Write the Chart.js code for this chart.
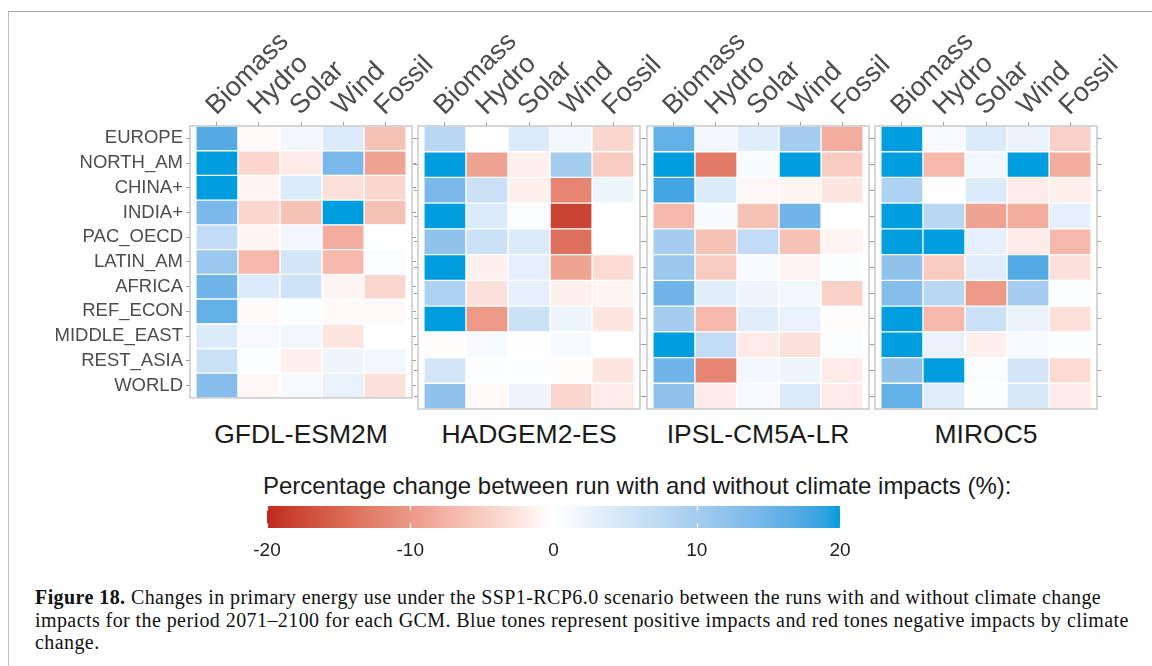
<!DOCTYPE html>
<html>
<head>
<meta charset="utf-8">
<title>Primary energy use, SSP1-RCP6.0</title>
<script src="https://cdn.jsdelivr.net/npm/chart.js@4.4.1/dist/chart.umd.min.js"></script>
<style>
  html, body { margin: 0; padding: 0; background: #fff; overflow: hidden; }
  body { width: 1152px; height: 666px; position: relative; font-family: 'Liberation Sans', Arial, sans-serif; }
  #frame { position: absolute; left: 8px; top: 11px; width: 1160px; height: 680px;
           border-top: 1.5px solid #a3a3a3; border-left: 1.5px solid #bdbdbd; }
  canvas { position: absolute; }
  .gcm { position: absolute; top: 419px; width: 222px; text-align: center; font-size: 26.5px; color: #1a1a1a; }
  #legendTitle { position: absolute; left: 263px; top: 472px; font-size: 24px; color: #1a1a1a; white-space: nowrap; }
  #caption { position: absolute; left: 35px; top: 586px; font-family: 'Liberation Serif', 'Times New Roman', serif;
             font-size: 20px; letter-spacing: 0.42px; line-height: 22.5px; color: #111; white-space: nowrap; }
</style>
</head>
<body>
<div id="frame"></div>
<canvas id="panel0"></canvas>
<canvas id="panel1"></canvas>
<canvas id="panel2"></canvas>
<canvas id="panel3"></canvas>
<div class="gcm" style="left:190px">GFDL-ESM2M</div>
<div class="gcm" style="left:418px">HADGEM2-ES</div>
<div class="gcm" style="left:647px">IPSL-CM5A-LR</div>
<div class="gcm" style="left:875px">MIROC5</div>
<div id="legendTitle">Percentage change between run with and without climate impacts (%):</div>
<canvas id="colourbar"></canvas>
<div id="caption"><b>Figure 18.</b> Changes in primary energy use under the SSP1-RCP6.0 scenario between the runs with and without climate change<br>impacts for the period 2071–2100 for each GCM. Blue tones represent positive impacts and red tones negative impacts by climate<br>change.</div>

<script>
const regions = ["EUROPE", "NORTH_AM", "CHINA+", "INDIA+", "PAC_OECD", "LATIN_AM",
  "AFRICA", "REF_ECON", "MIDDLE_EAST", "REST_ASIA", "WORLD"];
const energyTypes = ["Biomass", "Hydro", "Solar", "Wind", "Fossil"];
const legendTicks = [-20, -10, 0, 10, 20];

// % change, one row per region: Biomass, Hydro, Solar, Wind, Fossil
const gfdlEsm2m = [
  [17, -0.5, 1.5, 4, -6],
  [20, -4, -2, 14, -9],
  [20, -1, 4, -3, -4],
  [14, -4, -6, 20, -6],
  [7, -1, 1.5, -8, 0],
  [11, -7, 5, -7, 0.5],
  [15, 4, 5.5, -1, -4],
  [16, -0.5, 0.3, -0.5, -0.5],
  [4, 1, 1.5, -2.5, 0],
  [6, 0.3, -1.5, 2, 1.5],
  [13, -0.8, 1, 2.5, -3]
];
const hadgem2Es = [
  [8, 0, 4, 1.5, -4],
  [20, -9, -1.5, 10, -5],
  [14, 6, -1.5, -12, 2],
  [20, 4, 0.5, -18, 0],
  [12, 6, 4, -14, 0],
  [20, -1.5, 3, -9, -3.5],
  [9, -3, 3, -1.5, -1],
  [20, -10, 6, 2, -2.5],
  [-0.3, 1, -0.2, 1, 0],
  [5, 0.3, 0.3, -0.3, -2.5],
  [12, -0.5, 2, -4, -2]
];
const ipslCm5aLr = [
  [16, 1.5, 3.5, 10, -8],
  [20, -13, 0.8, 20, -5],
  [18, 4, -0.8, -1, -2.5],
  [-7, 0.8, -6, 15, 0],
  [10, -6, 7, -6, -1],
  [11, -5, 0.8, -1, 0.3],
  [15, 3.5, 2, 1.5, -4.5],
  [10, -7, 3.5, 2.5, -0.3],
  [20, 7, -2, -3, 0.5],
  [15, -12, 1.5, 2, -2],
  [12, -2, 1, 4, -2]
];
const miroc5 = [
  [20, 1, 4, 2.5, -4.5],
  [20, -7, 1.5, 20, -8],
  [9, -0.2, 4, -2, -1.5],
  [20, 8, -9, -8, 3],
  [20, 20, 3, -2, -7],
  [12, -5, 3.5, 17, -3],
  [13, 8, -10, 10, 0.3],
  [20, -7, 6, 2.5, -3],
  [20, 2.5, -1.5, 1, 0.3],
  [12, 20, 0.5, 5, -3.5],
  [16, 3.5, 0.3, 4.5, -2]
];
const gcmValues = [gfdlEsm2m, hadgem2Es, ipslCm5aLr, miroc5];

Chart.defaults.font.family = "'Liberation Sans', Arial, sans-serif";

// diverging fill: red -> white -> blue, interpolated in CIE Lab
const lowCol = [191, 40, 30];
const midCol = [255, 255, 255];
const highCol = [0, 157, 223];
const WHITE = [0.95047, 1, 1.08883];
const lin = c => { c /= 255; return c <= 0.04045 ? c / 12.92 : Math.pow((c + 0.055) / 1.055, 2.4); };
const gam = c => {
  c = c <= 0.0031308 ? 12.92 * c : 1.055 * Math.pow(c, 1 / 2.4) - 0.055;
  return Math.round(Math.max(0, Math.min(1, c)) * 255);
};
const f = t => t > 216 / 24389 ? Math.cbrt(t) : (24389 / 27 * t + 16) / 116;
const fi = t => t * t * t > 216 / 24389 ? t * t * t : (116 * t - 16) / (24389 / 27);

function toLab([r, g, b]) {
  const R = lin(r), G = lin(g), B = lin(b);
  const x = (0.4124 * R + 0.3576 * G + 0.1805 * B) / WHITE[0];
  const y = (0.2126 * R + 0.7152 * G + 0.0722 * B) / WHITE[1];
  const z = (0.0193 * R + 0.1192 * G + 0.9505 * B) / WHITE[2];
  return [116 * f(y) - 16, 500 * (f(x) - f(y)), 200 * (f(y) - f(z))];
}
function fromLab([L, a, b]) {
  const fy = (L + 16) / 116, fx = fy + a / 500, fz = fy - b / 200;
  const x = fi(fx) * WHITE[0], y = fi(fy) * WHITE[1], z = fi(fz) * WHITE[2];
  return [
    gam(3.2406 * x - 1.5372 * y - 0.4986 * z),
    gam(-0.9689 * x + 1.8758 * y + 0.0415 * z),
    gam(0.0557 * x - 0.2040 * y + 1.0570 * z)
  ];
}
const labLow = toLab(lowCol), labMid = toLab(midCol), labHigh = toLab(highCol);

function fillFor(v) {
  const t = Math.max(-1, Math.min(1, v / 20));
  const end = t < 0 ? labLow : labHigh;
  const k = Math.abs(t);
  const [r, g, b] = fromLab(labMid.map((m, i) => m + (end[i] - m) * k));
  return `rgb(${r},${g},${b})`;
}

// grey box round each facet
const panelBorder = {
  id: "panelBorder",
  afterDatasetsDraw(chart) {
    const { ctx, chartArea: a } = chart;
    ctx.save();
    ctx.strokeStyle = "#c9c9c9";
    ctx.lineWidth = 1.5;
    ctx.strokeRect(a.left, a.top, a.right - a.left, a.bottom - a.top);
    ctx.restore();
  }
};

const panelLeft = [190, 418, 647, 875];
const panelWidth = 222;
const tickGrid = { offset: false, drawOnChartArea: false, tickLength: 4, color: "#9e9e9e", tickWidth: 1 };

gcmValues.forEach((values, p) => {
  const axisW = p === 0 ? 190 : 8;
  const padLeft = p === 0 ? 0 : 25;
  const canvas = document.getElementById("panel" + p);
  canvas.width = padLeft + axisW + panelWidth + 6 + 80;
  canvas.height = 412;
  canvas.style.left = (panelLeft[p] - axisW - padLeft) + "px";
  canvas.style.top = "0px";

  new Chart(canvas, {
    type: "bar",
    data: {
      labels: regions,
      datasets: energyTypes.map((name, j) => ({
        label: name,
        data: regions.map(() => [j, j + 1]),
        backgroundColor: values.map(row => fillFor(row[j])),
        borderColor: "#ffffff",
        borderWidth: 1,
        borderSkipped: false,
        grouped: false,
        barPercentage: 1,
        categoryPercentage: 1
      }))
    },
    options: {
      indexAxis: "y",
      responsive: false,
      animation: false,
      layout: { padding: { top: 0, bottom: 3, left: padLeft, right: 80 } },
      plugins: { legend: { display: false }, tooltip: { enabled: false } },
      scales: {
        x: {
          type: "linear",
          position: "top",
          min: -0.14,
          max: 5.14,
          bounds: "data",
          afterBuildTicks: s => { s.ticks = energyTypes.map((_, j) => ({ value: j + 0.5 })); },
          afterFit: s => { s.height = 126; },
          grid: tickGrid,
          border: { display: false },
          ticks: {
            autoSkip: false, minRotation: 45, maxRotation: 45, padding: 0, labelOffset: 17,
            color: "#4d4d4d", font: { size: 27 },
            callback: (v, i) => energyTypes[i]
          }
        },
        y: {
          position: "left",
          offset: true,
          afterFit: s => { s.width = axisW; },
          grid: tickGrid,
          border: { display: false },
          ticks: { display: p === 0, autoSkip: false, padding: 3, color: "#4d4d4d", font: { size: 18.5 } }
        },
        y2: {
          type: "category",
          labels: regions,
          position: "right",
          offset: true,
          afterFit: s => { s.width = 6; },
          grid: tickGrid,
          border: { display: false },
          ticks: { display: false, autoSkip: false }
        }
      }
    },
    plugins: [panelBorder]
  });
});

// colour bar legend
const barTicks = {
  id: "barTicks",
  afterDatasetsDraw(chart) {
    const { ctx, chartArea: a, scales: { x } } = chart;
    ctx.save();
    ctx.strokeStyle = "#ffffff";
    ctx.lineWidth = 1.2;
    legendTicks.forEach(v => {
      const px = Math.round(x.getPixelForValue(v)) + 0.5;
      ctx.beginPath();
      ctx.moveTo(px, a.top); ctx.lineTo(px, a.top + 4.5);
      ctx.moveTo(px, a.bottom - 4.5); ctx.lineTo(px, a.bottom);
      ctx.stroke();
    });
    ctx.restore();
  }
};

const barCanvas = document.getElementById("colourbar");
barCanvas.width = 633;
barCanvas.height = 70;
barCanvas.style.left = "237px";
barCanvas.style.top = "500px";
const lo = legendTicks[0], hi = legendTicks[legendTicks.length - 1];

new Chart(barCanvas, {
  type: "bar",
  data: {
    labels: ["scale"],
    datasets: [{
      data: [[lo, hi]],
      backgroundColor: c => {
        const area = c.chart.chartArea;
        if (!area || !isFinite(area.left) || area.right <= area.left) return "#ffffff";
        const g = c.chart.ctx.createLinearGradient(area.left, 0, area.right, 0);
        for (let v = lo; v <= hi; v++) g.addColorStop((v - lo) / (hi - lo), fillFor(v));
        return g;
      },
      borderWidth: 0,
      barPercentage: 1,
      categoryPercentage: 1
    }]
  },
  options: {
    indexAxis: "y",
    responsive: false,
    animation: false,
    layout: { padding: { top: 6, bottom: 0, left: 30, right: 30 } },
    plugins: { legend: { display: false }, tooltip: { enabled: false } },
    scales: {
      x: {
        type: "linear",
        min: lo,
        max: hi,
        afterBuildTicks: s => { s.ticks = legendTicks.map(v => ({ value: v })); },
        afterFit: s => { s.height = 42; },
        grid: { display: false },
        border: { display: false },
        ticks: { padding: 3, color: "#222222", font: { size: 19 } }
      },
      y: { display: false }
    }
  },
  plugins: [barTicks]
});
</script>
</body>
</html>
